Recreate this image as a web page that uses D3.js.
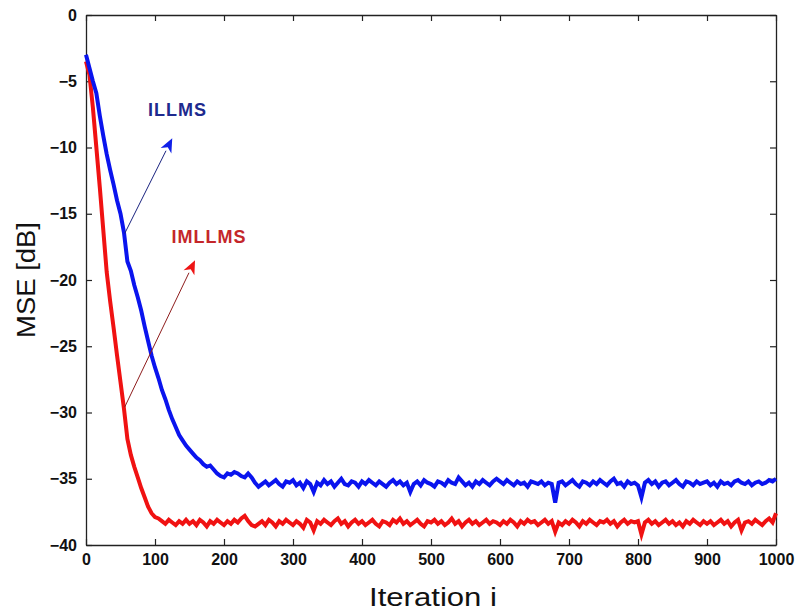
<!DOCTYPE html>
<html>
<head>
<meta charset="utf-8">
<script src="https://cdn.jsdelivr.net/npm/d3@7"></script>
<style>
  body { margin: 0; background: #fff; }
  svg { display: block; font-family: Arial, "Liberation Sans", sans-serif; }
</style>
</head>
<body>
<div id="chart"></div>
<script>
// MSE curves sampled every 5 iterations (i = 0, 5, ..., 1000)
var iterStep = 5;

var illms = [
  -3.0, -4.0, -5.0, -5.9, -7.6, -9.1, -10.5, -11.7, -12.8, -14.0,
  -15.0, -16.4, -18.6, -19.3, -20.4, -21.3, -22.3, -23.5, -24.6, -25.7,
  -26.6, -27.4, -28.3, -29.0, -29.8, -30.5, -31.1, -31.7, -32.1, -32.5,
  -32.8, -33.1, -33.4, -33.6, -33.9, -34.1, -34.0, -34.3, -34.6, -34.8,
  -34.9, -34.6, -34.7, -34.5, -34.6, -34.8, -34.9, -34.6, -34.9, -35.3,
  -35.6, -35.4, -35.2, -35.5, -35.3, -35.1, -35.4, -35.6, -35.2, -35.3,
  -35.1, -35.5, -35.3, -35.7, -35.2, -35.4, -36.0, -35.3, -35.5, -35.1,
  -35.4, -35.2, -35.6, -35.3, -35.0, -35.4, -35.5, -35.2, -35.3, -35.6,
  -35.2, -35.4, -35.1, -35.3, -35.5, -35.2, -35.4, -35.6, -35.3, -35.1,
  -35.4, -35.2, -35.5, -35.3, -36.0, -35.4, -35.2, -35.5, -35.1, -35.3,
  -35.4, -35.6, -35.2, -35.3, -35.5, -35.1, -35.3, -35.4, -34.9, -35.2,
  -35.5, -35.3, -35.6, -35.2, -35.4, -35.1, -35.3, -35.5, -35.2, -35.0,
  -35.2, -35.4, -35.1, -35.3, -35.5, -35.2, -35.4, -35.3, -35.6, -35.2,
  -35.3, -35.4, -35.2, -35.5, -35.3, -35.4, -36.8, -35.3, -35.2, -35.5,
  -35.3, -35.1, -35.4, -35.6, -35.2, -35.3, -35.5, -35.2, -35.4, -35.1,
  -35.3, -35.5, -35.2, -35.0, -35.4, -35.3, -35.6, -35.2, -35.4, -35.3,
  -35.5, -36.4, -35.3, -35.1, -35.4, -35.2, -35.6, -35.3, -35.2, -35.5,
  -35.3, -35.1, -35.4, -35.6, -35.2, -35.3, -35.5, -35.2, -35.4, -35.3,
  -35.2, -35.5, -35.3, -35.6, -35.2, -35.4, -35.3, -35.5, -35.2, -35.1,
  -35.3, -35.4, -35.2, -35.5, -35.3, -35.2, -35.4, -35.3, -35.1, -35.2,
  -35.0
];

var imllms = [
  -3.5, -4.5, -7.0, -10.0, -13.0, -16.2, -19.4, -21.6, -23.6, -25.7,
  -27.7, -29.7, -32.0, -33.2, -34.1, -34.9, -35.7, -36.4, -37.1, -37.6,
  -37.9, -38.0, -38.2, -38.4, -38.1, -38.3, -38.5, -38.2, -38.4, -38.1,
  -38.4, -38.2, -38.5, -38.1, -38.3, -38.6, -38.2, -38.4, -38.1, -38.3,
  -38.5, -38.2, -38.4, -38.1, -38.3, -38.0, -37.8, -38.2, -38.5, -38.6,
  -38.4, -38.2, -38.5, -38.1, -38.3, -38.6, -38.2, -38.4, -38.1, -38.3,
  -38.5, -38.2, -38.4, -38.7, -38.1, -38.3, -38.9, -38.2, -38.4, -38.1,
  -38.3, -38.5, -38.2, -38.0, -38.4, -38.2, -38.6, -38.3, -38.1, -38.4,
  -38.2, -38.5, -38.3, -38.1, -38.4, -38.6, -38.2, -38.3, -38.5, -38.1,
  -38.3, -38.0, -38.4, -38.2, -38.5, -38.3, -38.1, -38.4, -38.6, -38.2,
  -38.3, -38.1, -38.4, -38.2, -38.5, -38.3, -38.0, -38.4, -38.2, -38.6,
  -38.3, -38.1, -38.4, -38.2, -38.5, -38.3, -38.1, -38.4, -38.2, -38.3,
  -38.5, -38.2, -38.4, -38.1, -38.3, -38.6, -38.2, -38.4, -38.1, -38.3,
  -38.2, -38.5, -38.3, -38.1, -38.4, -38.2, -39.0, -38.3, -38.5, -38.2,
  -38.4, -38.1, -38.3, -38.6, -38.2, -38.4, -38.1, -38.3, -38.5, -38.2,
  -38.3, -38.1, -38.4, -38.2, -38.6, -38.3, -38.1, -38.4, -38.2, -38.3,
  -38.2, -39.2, -38.3, -38.1, -38.4, -38.2, -38.5, -38.3, -38.1, -38.4,
  -38.2, -38.5, -38.3, -38.6, -38.2, -38.4, -38.1, -38.3, -38.5, -38.2,
  -38.4, -38.2, -38.5, -38.3, -38.1, -38.4, -38.2, -38.6, -38.3, -38.1,
  -38.9, -38.3, -38.2, -38.4, -38.1, -38.3, -38.5, -38.2, -38.0, -38.3,
  -37.6
];

var xTicks = [0, 100, 200, 300, 400, 500, 600, 700, 800, 900, 1000];
var yTicks = [0, -5, -10, -15, -20, -25, -30, -35, -40];

// annotation labels: text, label anchor [iter, dB], arrow start, arrow tip
var annoNames = ["ILLMS", "IMLLMS"];
var annoText = [[90, -7.6], [124, -17.2]];
var annoFrom = [[56, -16.5], [56, -29.6]];
var annoTo = [[125, -9.3], [158, -18.5]];

function init() {
    var w = 798, h = 615;
    var margin = {top: 15, right: 22, bottom: 70, left: 86};
    var iw = w - margin.left - margin.right;
    var ih = h - margin.top - margin.bottom;

    var svg = d3.select("#chart").append("svg")
        .attr("width", w)
        .attr("height", h);

    var g = svg.append("g")
        .attr("transform", "translate(" + margin.left + "," + margin.top + ")");

    var x = d3.scaleLinear().domain([0, 1000]).range([0, iw]);
    var y = d3.scaleLinear().domain([-40, 0]).range([ih, 0]);

    // axes with inward ticks on all four sides
    var axisColor = "#222";
    function styleAxis(sel) {
        sel.select(".domain").attr("stroke", axisColor).attr("stroke-width", 1.3);
        sel.selectAll(".tick line").attr("stroke", axisColor).attr("stroke-width", 1.2);
        sel.selectAll("text")
            .attr("fill", "#111")
            .style("font-size", "16px")
            .style("font-weight", "bold");
    }

    g.append("g")
        .attr("transform", "translate(0," + ih + ")")
        .call(d3.axisBottom(x).tickValues(xTicks).tickFormat(d3.format("d"))
            .tickSizeInner(-6).tickSizeOuter(0).tickPadding(9))
        .call(styleAxis);

    g.append("g")
        .call(d3.axisTop(x).tickValues(xTicks).tickSizeInner(-6).tickSizeOuter(0).tickFormat(""))
        .call(styleAxis);

    g.append("g")
        .call(d3.axisLeft(y).tickValues(yTicks).tickSizeInner(-6).tickSizeOuter(0).tickPadding(9))
        .call(styleAxis);

    g.append("g")
        .attr("transform", "translate(" + iw + ",0)")
        .call(d3.axisRight(y).tickValues(yTicks).tickSizeInner(-6).tickSizeOuter(0).tickFormat(""))
        .call(styleAxis);

    // curves
    var line = d3.line()
        .x(function(d, i) { return x(i * iterStep); })
        .y(function(d) { return y(d); });

    g.append("path")
        .datum(imllms)
        .attr("fill", "none")
        .attr("stroke", "#f01212")
        .attr("stroke-width", 4)
        .attr("stroke-linejoin", "miter")
        .attr("d", line);

    g.append("path")
        .datum(illms)
        .attr("fill", "none")
        .attr("stroke", "#0a14ee")
        .attr("stroke-width", 4)
        .attr("stroke-linejoin", "miter")
        .attr("d", line);

    // arrows
    var lineColors = ["#1a2380", "#8e1c1c"];
    var headColors = ["#1020e8", "#ee1515"];
    var textColors = ["#1e2a8e", "#c4262a"];

    annoNames.forEach(function(name, k) {
        var x1 = x(annoFrom[k][0]), y1 = y(annoFrom[k][1]);
        var x2 = x(annoTo[k][0]), y2 = y(annoTo[k][1]);
        var ang = Math.atan2(y2 - y1, x2 - x1);
        var hl = 14, hw = 6;
        var bx = x2 - hl * Math.cos(ang), by = y2 - hl * Math.sin(ang);

        g.append("line")
            .attr("x1", x1).attr("y1", y1)
            .attr("x2", bx).attr("y2", by)
            .attr("stroke", lineColors[k])
            .attr("stroke-width", 1);

        var pts = [
            [x2, y2],
            [bx + hw * Math.sin(ang), by - hw * Math.cos(ang)],
            [x2 - (hl - 4) * Math.cos(ang), y2 - (hl - 4) * Math.sin(ang)],
            [bx - hw * Math.sin(ang), by + hw * Math.cos(ang)]
        ];
        g.append("polygon")
            .attr("points", pts.map(function(p) { return p.join(","); }).join(" "))
            .attr("fill", headColors[k]);

        g.append("text")
            .attr("x", x(annoText[k][0]))
            .attr("y", y(annoText[k][1]))
            .attr("fill", textColors[k])
            .style("font-size", "18px")
            .style("font-weight", "bold")
            .style("letter-spacing", "1px")
            .text(name);
    });

    // axis titles
    svg.append("text")
        .attr("x", 369)
        .attr("y", 606)
        .attr("textLength", 128)
        .attr("lengthAdjust", "spacingAndGlyphs")
        .attr("fill", "#111")
        .style("font-size", "25px")
        .text("Iteration i");

    svg.append("text")
        .attr("transform", "translate(35,338) rotate(-90)")
        .attr("textLength", 116)
        .attr("lengthAdjust", "spacingAndGlyphs")
        .attr("fill", "#111")
        .style("font-size", "25px")
        .text("MSE [dB]");
}

window.onload = init;
</script>
</body>
</html>
